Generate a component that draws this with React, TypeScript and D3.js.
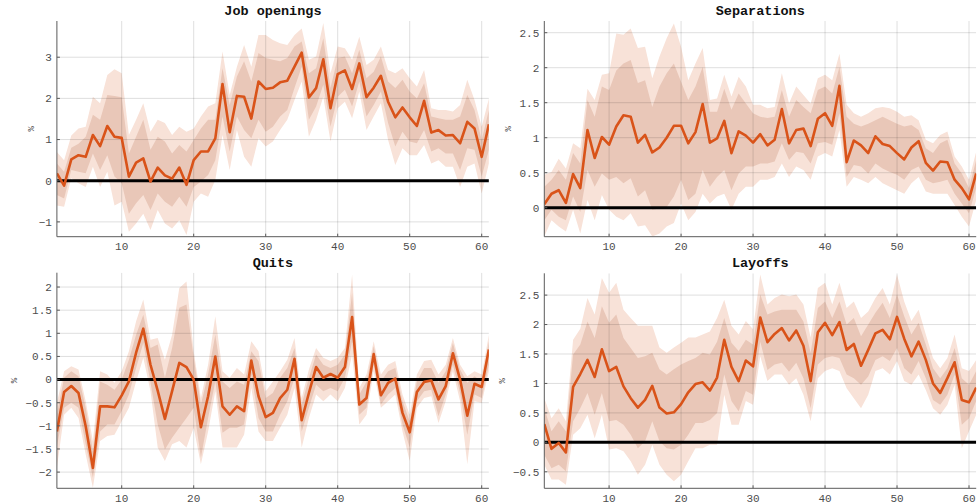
import React from 'react';
import * as d3 from 'd3';

const horizons = d3.range(1, 62);
const xTicks = [10, 20, 30, 40, 50, 60];

// ---------- Job openings ----------
const jobMed = [0.18,-0.12,0.52,0.62,0.58,1.11,0.84,1.33,1.07,1.04, 0.1,0.44,0.54,-0.02,0.32,0.13,0.05,0.32,-0.1,0.5, 0.71,0.71,1.03,2.35,1.18,2.06,2.04,1.51,2.41,2.23, 2.26,2.39,2.43,2.77,3.11,2.02,2.25,2.95,1.76,2.59, 2.68,2.23,2.85,2.03,2.26,2.55,1.92,1.54,1.78,1.54, 1.33,1.94,1.17,1.23,1.1,1.11,0.91,1.43,1.27,0.58,1.37];
const jobOU = [0.7,0.5,1.1,1.27,1.31,2.04,1.88,2.57,2.71,2.61, 1.11,1.48,1.88,1.19,1.48,1.4,1.11,1.31,1.19,1.27, 1.56,1.8,1.88,3.14,2.08,2.77,3.3,2.77,3.54,3.54, 3.42,3.34,3.3,3.54,3.7,2.94,3.02,3.83,2.61,3.26, 3.22,2.94,3.5,2.81,2.94,3.26,2.69,2.61,2.73,2.49, 2.29,2.69,1.76,1.72,1.72,1.68,1.84,2.45,1.96,1.31,2.0];
const jobIU = [0.42,0.22,0.8,0.9,1.07,1.6,1.48,2.08,2.06,2.03, 0.66,1.07,1.48,0.75,1.07,0.95,0.66,0.87,0.71,0.99, 1.27,1.48,1.48,2.73,1.84,2.53,2.9,2.41,3.1,2.98, 2.94,2.9,2.98,3.26,3.38,2.61,2.73,3.46,2.25,2.98, 3.02,2.61,3.18,2.49,2.65,3.02,2.41,2.25,2.45,2.17, 2.0,2.37,1.56,1.52,1.48,1.48,1.56,2.08,1.72,0.99,1.72];
const jobIL = [-0.35,-0.43,0.26,0.22,0.18,0.66,0.26,0.62,0.1,-0.06, -0.8,-0.55,-0.35,-0.71,-0.31,-0.51,-0.63,-0.39,-0.63,-0.15, -0.02,0.14,0.5,1.56,0.71,1.56,1.23,1.03,1.48,1.19, 1.31,1.56,1.72,2.25,2.77,1.48,1.8,2.33,1.31,2.04, 2.21,1.8,2.41,1.56,1.84,2.17,1.4,0.83,1.19,0.95, 0.91,1.23,0.71,0.79,0.66,0.66,0.26,0.79,0.75,0.1,0.75];
const jobOL = [-0.6,-0.63,0.06,-0.06,-0.15,0.34,-0.15,0.22,-0.6,-0.51, -1.24,-1.04,-0.8,-1.2,-0.71,-1.04,-1.16,-0.96,-1.32,-0.51, -0.31,-0.39,0.02,1.11,0.26,1.23,0.58,0.34,1.03,0.83, 0.95,1.23,1.48,1.96,2.41,1.07,1.48,2.04,0.95,1.76, 1.92,1.52,2.17,1.23,1.56,1.88,0.99,0.38,0.79,0.62, 0.62,0.87,0.42,0.5,0.34,0.34,-0.15,0.34,0.42,-0.31,0.42];
const jobTicks = [-1, 0, 1, 2, 3];

// ---------- Separations ----------
const sepMed = [0.05,0.2,0.25,0.07,0.48,0.28,1.11,0.71,1.01,0.9, 1.16,1.32,1.3,0.93,1.04,0.79,0.86,1.0,1.17,1.17, 0.92,1.08,1.48,0.93,0.99,1.24,0.78,1.09,1.03,0.93, 1.05,0.89,0.97,1.41,0.92,1.11,1.13,0.88,1.27,1.35, 1.17,1.74,0.65,0.96,0.89,0.78,1.02,0.91,0.88,0.78, 0.69,0.86,0.95,0.64,0.53,0.66,0.65,0.4,0.28,0.12,0.49];
const sepOU = [0.47,0.51,0.7,0.56,0.92,0.85,1.7,1.54,1.9,1.92, 2.49,2.47,2.56,2.28,2.3,1.85,2.16,2.42,2.63,2.3, 1.82,2.06,2.28,1.54,1.56,1.9,1.59,1.87,1.73,1.47, 1.47,1.42,1.44,1.92,1.49,1.73,1.61,1.49,1.85,1.9, 1.82,2.2,1.47,1.35,1.3,1.35,1.42,1.44,1.42,1.37, 1.3,1.32,1.25,0.97,0.92,1.04,1.09,0.73,0.59,0.4,0.8];
const sepIU = [0.3,0.4,0.54,0.4,0.78,0.63,1.54,1.3,1.73,1.68, 1.96,2.06,2.11,1.78,1.82,1.44,1.73,1.92,2.06,1.8, 1.54,1.73,2.01,1.37,1.37,1.7,1.4,1.63,1.49,1.35, 1.3,1.28,1.3,1.68,1.3,1.54,1.44,1.35,1.68,1.73, 1.63,2.01,1.3,1.2,1.16,1.2,1.25,1.3,1.25,1.2, 1.16,1.18,1.11,0.85,0.78,0.92,0.97,0.63,0.49,0.28,0.68];
const sepIL = [-0.18,-0.03,-0.13,-0.18,0.16,-0.06,0.54,0.3,0.49,0.4, 0.44,0.35,0.42,0.16,0.25,-0.03,-0.01,0.01,0.16,0.4, 0.11,0.2,0.54,0.3,0.44,0.54,0.25,0.49,0.59,0.59, 0.63,0.63,0.66,0.92,0.68,0.8,0.78,0.63,0.92,0.94, 0.9,1.35,0.44,0.61,0.59,0.49,0.63,0.56,0.51,0.47, 0.4,0.54,0.59,0.4,0.35,0.37,0.4,0.2,0.06,-0.08,0.28];
const sepOL = [-0.41,-0.18,-0.27,-0.34,-0.03,-0.37,0.11,-0.18,0.18,-0.03, -0.13,-0.18,-0.08,-0.27,-0.25,-0.41,-0.37,-0.27,-0.22,0.06, -0.18,-0.06,0.2,0.06,0.16,0.2,-0.03,0.2,0.3,0.3, 0.4,0.4,0.44,0.63,0.44,0.59,0.54,0.4,0.73,0.78, 0.73,1.11,0.3,0.44,0.4,0.35,0.44,0.35,0.3,0.25, 0.2,0.35,0.44,0.23,0.2,0.2,0.2,0.04,-0.13,-0.27,0.11];
const sepTicks = [0, 0.5, 1, 1.5, 2, 2.5];

// ---------- Quits ----------
const quiMed = [-1.12,-0.27,-0.14,-0.29,-1.01,-1.91,-0.58,-0.58,-0.6,-0.34, -0.04,0.58,1.1,0.32,-0.24,-0.85,-0.25,0.36,0.27,0, -1.03,-0.36,0.5,-0.58,-0.76,-0.58,-0.68,0.41,-0.36,-0.81, -0.72,-0.4,-0.22,0.45,-0.88,-0.29,0.27,0.04,0.12,0.04, 0.27,1.35,-0.54,-0.4,0.55,-0.34,-0.07,0.02,-0.72,-1.14, -0.27,-0.05,-0.02,-0.43,-0.14,0.57,0,-0.78,-0.09,-0.16,0.65];
const quiOU = [-0.5,0.18,0.29,0.22,-0.47,-1.33,0.18,0.11,-0.07,0.18, 0.61,1.26,1.73,0.86,0.9,0.43,0.97,1.98,2.12,0.61, -0.4,0.32,1.37,0.18,0.04,0.25,0.11,0.83,0.61,-0.25, -0.04,0.18,0.43,0.9,-0.4,0.22,0.68,0.47,0.4,0.47, 0.68,2.27,-0.18,0.11,0.83,0.11,0.32,0.4,-0.32,-0.76, 0.11,0.4,0.43,0.11,0.32,0.9,0.32,0.07,0.18,0.11,0.97];
const quiIU = [-0.75,0.04,0.18,0.07,-0.61,-1.55,-0.04,-0.11,-0.22,0, 0.43,0.97,1.4,0.68,0.76,0.04,0.68,1.55,1.62,0.47, -0.54,0.11,0.97,-0.04,-0.18,-0.04,-0.11,0.61,0.4,-0.4, -0.29,0.04,0.25,0.68,-0.54,0.04,0.54,0.32,0.25,0.32, 0.54,1.87,-0.32,-0.04,0.72,-0.04,0.18,0.25,-0.47,-0.9, -0.04,0.25,0.25,-0.07,0.18,0.79,0.22,-0.07,0.07,-0.04,0.83];
const quiIL = [-1.45,-0.61,-0.5,-0.61,-1.4,-2.12,-1.12,-0.97,-0.97,-0.68, -0.32,0.25,0.79,-0.07,-0.97,-1.51,-1.26,-1.04,-0.83,-0.61, -1.69,-0.83,-0.04,-1.15,-1.04,-1.04,-0.97,0.11,-0.83,-1.12, -1.12,-0.76,-0.47,0.04,-1.12,-0.61,-0.11,-0.25,-0.18,-0.25, 0.04,0.83,-0.76,-0.61,0.32,-0.54,-0.32,-0.18,-0.97,-1.47, -0.47,-0.25,-0.22,-0.79,-0.32,0.32,-0.29,-1.19,-0.32,-0.4,0.32];
const quiOL = [-1.9,-0.76,-0.61,-0.83,-1.62,-2.34,-1.33,-1.22,-1.19,-0.9, -0.61,-0.04,0.47,-0.25,-1.47,-1.76,-1.4,-1.33,-1.47,-1.04, -1.83,-1.12,-0.25,-1.47,-1.47,-1.47,-1.19,-0.18,-1.12,-1.33, -1.33,-1.04,-0.76,-0.18,-1.47,-0.83,-0.32,-0.47,-0.32,-0.47, -0.18,0.54,-0.97,-0.76,0.18,-0.61,-0.47,-0.32,-1.12,-1.76, -0.61,-0.4,-0.36,-0.94,-0.47,0.18,-0.47,-1.83,-0.47,-0.5,0.18];
const quiTicks = [-2, -1.5, -1, -0.5, 0, 0.5, 1, 1.5, 2];

// ---------- Layoffs ----------
const layMed = [0.31,-0.11,-0.01,-0.17,0.94,1.16,1.4,1.11,1.58,1.21, 1.28,0.95,0.75,0.59,0.72,0.96,0.59,0.49,0.51,0.65, 0.85,0.99,1.02,0.88,1.1,1.74,1.28,1.04,1.39,1.29, 2.12,1.7,1.84,1.94,1.73,1.9,1.64,1.04,1.87,2.03, 1.82,2.04,1.57,1.67,1.3,1.57,1.85,1.91,1.75,2.13, 1.76,1.46,1.71,1.4,1.0,0.84,1.09,1.36,0.72,0.68,0.93];
const layOU = [0.75,0.41,0.58,0.36,1.74,1.93,2.45,2.17,2.79,2.54, 2.71,2.25,2.11,1.98,1.98,1.98,1.61,1.52,1.61,1.69, 1.78,1.78,1.83,1.88,2.11,2.42,1.98,1.83,2.06,1.92, 2.85,2.34,2.45,2.51,2.48,2.51,2.34,1.78,2.62,2.71, 2.34,2.71,2.28,2.39,2.11,2.22,2.45,2.62,2.34,2.85, 2.39,2.06,2.25,1.83,1.43,1.26,1.43,1.83,1.26,1.21,1.4];
const layIU = [0.58,0.19,0.36,0.19,1.49,1.66,2.05,1.77,2.31,2.03, 2.17,1.77,1.6,1.43,1.46,1.52,1.24,1.15,1.24,1.32, 1.38,1.43,1.52,1.49,1.71,2.11,1.69,1.55,1.74,1.66, 2.51,2.17,2.22,2.25,2.25,2.25,2.05,1.52,2.28,2.39, 2.11,2.39,2.0,2.11,1.8,2.0,2.2,2.37,2.11,2.51, 2.14,1.83,2.03,1.66,1.26,1.09,1.26,1.6,1.09,0.98,1.21];
const layIL = [-0.21,-0.44,-0.38,-0.49,0.36,0.58,0.84,0.47,0.84,0.36, 0.38,0.3,0.13,-0.1,0.02,0.36,0.02,-0.1,-0.12,-0.04, 0.13,0.33,0.33,0.38,0.5,1.15,0.7,0.53,0.87,0.81, 1.71,1.23,1.32,1.35,1.2,1.35,1.09,0.58,1.32,1.43, 1.46,1.43,1.15,1.09,0.98,1.12,1.4,1.46,1.38,1.6, 1.26,1.15,1.38,1.09,0.72,0.64,0.81,1.15,0.3,0.41,0.7];
const layOL = [-0.38,-0.63,-0.63,-0.72,0.13,0.24,0.47,0.07,0.47,-0.12, -0.1,-0.15,-0.32,-0.55,-0.38,-0.04,-0.38,-0.55,-0.66,-0.55, -0.32,-0.1,-0.1,-0.04,-0.04,0.81,0.3,0.3,0.7,0.64, 1.46,1.04,1.15,1.15,0.98,1.09,0.81,0.36,1.09,1.21, 1.26,1.21,0.92,0.75,0.58,0.81,1.21,1.26,1.15,1.38, 1.04,0.98,1.15,0.89,0.58,0.47,0.64,0.98,-0.1,0.19,0.47];
const layTicks = [-0.5, 0, 0.5, 1, 1.5, 2, 2.5];

const titles = ['Job openings', 'Separations', 'Quits', 'Layoffs'];

const LINE = '#D95319';
const OUTER = '#F8E2D8';
const INNER = '#E9C7B8';
const MONO = '"Liberation Mono", "DejaVu Sans Mono", monospace';

type PanelSpec = {
  id: string;
  title: string;
  med: number[]; ou: number[]; iu: number[]; il: number[]; ol: number[];
  ticks: number[];
  yDomain: [number, number];
  x0: number; x1: number; y0: number; y1: number;
  labelX: number;
};

const panels: PanelSpec[] = [
  { id: 'p0', title: titles[0], med: jobMed, ou: jobOU, iu: jobIU, il: jobIL, ol: jobOL, ticks: jobTicks,
    yDomain: [-1.36, 3.88], x0: 56.9, x1: 488.9, y0: 21, y1: 236.7, labelX: 31 },
  { id: 'p1', title: titles[1], med: sepMed, ou: sepOU, iu: sepIU, il: sepIL, ol: sepOL, ticks: sepTicks,
    yDomain: [-0.414, 2.667], x0: 544.3, x1: 976.2, y0: 21, y1: 236.7, labelX: 508 },
  { id: 'p2', title: titles[2], med: quiMed, ou: quiOU, iu: quiIU, il: quiIL, ol: quiOL, ticks: quiTicks,
    yDomain: [-2.35, 2.31], x0: 56.9, x1: 488.9, y0: 272.7, y1: 488.3, labelX: 14 },
  { id: 'p3', title: titles[3], med: layMed, ou: layOU, iu: layIU, il: layIL, ol: layOL, ticks: layTicks,
    yDomain: [-0.78, 2.87], x0: 544.3, x1: 976.2, y0: 273.3, y1: 488.3, labelX: 502 },
];

const fmt = (v: number) => (v < 0 ? '\u2212' : '') + String(Math.abs(v));

function Panel({ p }: { p: PanelSpec }) {
  const x = d3.scaleLinear().domain([1, 61]).range([p.x0, p.x1]);
  const y = d3.scaleLinear().domain(p.yDomain).range([p.y1, p.y0]);
  const band = (lo: number[], hi: number[]) =>
    d3.area<number>()
      .x((d) => x(d))
      .y0((_, i) => y(lo[i]))
      .y1((_, i) => y(hi[i]))(horizons) || '';
  const line = d3.line<number>().x((d) => x(d)).y((_, i) => y(p.med[i]))(horizons) || '';
  const midY = (p.y0 + p.y1) / 2;
  const axisColor = '#5a5a5a';
  const gridColor = 'rgba(0,0,0,0.13)';
  return (
    <g>
      <defs>
        <clipPath id={`clip-${p.id}`}>
          <rect x={p.x0} y={p.y0} width={p.x1 - p.x0} height={p.y1 - p.y0} />
        </clipPath>
      </defs>
      <g clipPath={`url(#clip-${p.id})`}>
        <path d={band(p.ol, p.ou)} fill={OUTER} stroke="none" />
        <path d={band(p.il, p.iu)} fill={INNER} stroke="none" />
        {xTicks.map((t) => (
          <line key={`gx${t}`} x1={x(t)} x2={x(t)} y1={p.y0} y2={p.y1} stroke={gridColor} strokeWidth={1} />
        ))}
        {p.ticks.map((t) => (
          <line key={`gy${t}`} x1={p.x0} x2={p.x1} y1={y(t)} y2={y(t)} stroke={gridColor} strokeWidth={1} />
        ))}
        <line x1={p.x0} x2={p.x1} y1={y(0)} y2={y(0)} stroke="#000" strokeWidth={3} />
        <path d={line} fill="none" stroke={LINE} strokeWidth={2.6} strokeLinejoin="round" />
      </g>
      <line x1={p.x0} x2={p.x0} y1={p.y0} y2={p.y1} stroke={axisColor} strokeWidth={1} />
      <line x1={p.x0} x2={p.x1} y1={p.y1} y2={p.y1} stroke={axisColor} strokeWidth={1} />
      {p.ticks.map((t) => (
        <g key={`ty${t}`}>
          <line x1={p.x0} x2={p.x0 + 3} y1={y(t)} y2={y(t)} stroke={axisColor} />
          <text x={p.x0 - 5} y={y(t)} dy="0.35em" textAnchor="end" fontFamily={MONO} fontSize={11} fill="#4d4d4d">
            {fmt(t)}
          </text>
        </g>
      ))}
      {xTicks.map((t) => (
        <g key={`tx${t}`}>
          <line x1={x(t)} x2={x(t)} y1={p.y1} y2={p.y1 - 3} stroke={axisColor} />
          <text x={x(t)} y={p.y1 + 13.5} textAnchor="middle" fontFamily={MONO} fontSize={11} fill="#4d4d4d">
            {t}
          </text>
        </g>
      ))}
      <text x={(p.x0 + p.x1) / 2} y={p.y0 - 6} textAnchor="middle" fontFamily={MONO} fontWeight="bold"
        fontSize={13.5} fill="#111">
        {p.title}
      </text>
      <text transform={`translate(${p.labelX},${midY}) rotate(-90)`} textAnchor="middle" dy="0.35em"
        fontFamily={MONO} fontSize={9} fill="#4d4d4d">
        %
      </text>
    </g>
  );
}

export default function App() {
  return (
    <svg width={978} height={504} style={{ position: 'absolute', left: 0, top: 0, background: '#fff' }}>
      <rect x={0} y={0} width={978} height={504} fill="#fff" />
      {panels.map((p) => (
        <Panel key={p.id} p={p} />
      ))}
    </svg>
  );
}
